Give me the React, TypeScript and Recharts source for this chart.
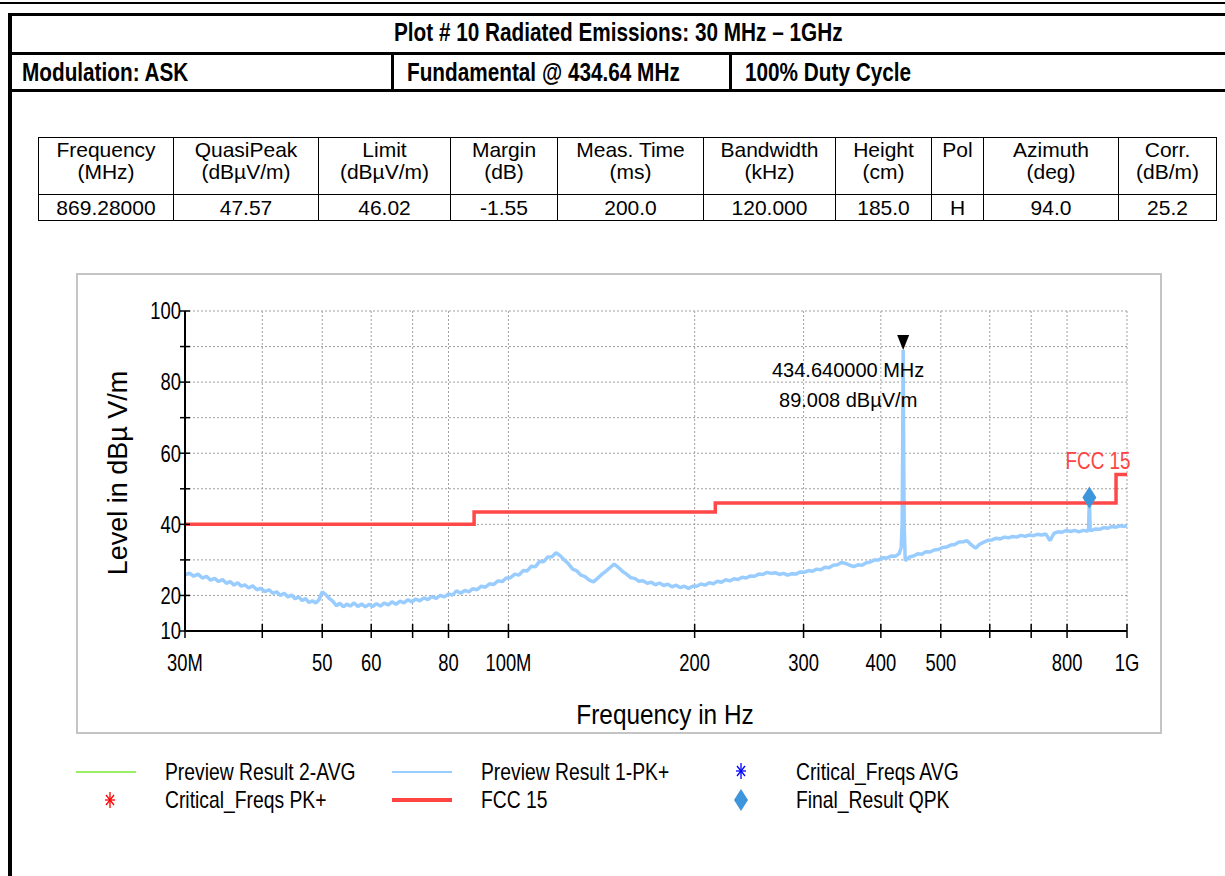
import { CartesianGrid, ComposedChart, Line, ReferenceDot, Scatter, XAxis, YAxis } from 'recharts'

// Preview Result 1-PK+ : frequency (MHz)
const freqMHz = [
  30, 30.5, 31, 31.5, 32, 32.5, 33, 33.5, 34, 34.5, 35, 35.5, 36, 36.5, 37, 37.5, 38, 38.6, 39.2, 39.8,
  40.4, 41, 41.6, 42.2, 42.8, 43.4, 44, 44.6, 45.2, 45.8, 46.4, 47, 47.6, 48.2, 48.8, 49.4, 50,
  50.6, 51.3, 52, 52.7, 53.4, 54.1, 54.8, 55.5, 56.3, 57.1, 57.9, 58.7, 59.5, 60.3,
  61.2, 62.1, 63, 63.9, 64.8, 65.8, 66.8, 67.8, 68.8, 69.8, 70.8, 71.9, 73, 74.1, 75.2, 76.4, 77.6, 78.8, 80,
  81.2, 82.4, 83.7, 85, 86.3, 87.6, 89, 90.4, 91.8, 93.2, 94.7, 96.2, 97.7, 99.2, 100.8,
  102.4, 104, 105.6, 107.2, 108.9, 110.6, 112.3, 114, 115.8, 117.6, 119.4, 121.2, 123.1, 125, 127, 129, 131, 133, 135.1, 137.2, 139.3, 141.5, 143.7, 145.9, 148.2, 150.5,
  152.8, 155.2, 157.6, 160, 162.5, 165, 167.6, 170.2, 172.8, 175.5, 178.2, 181, 183.8, 186.6, 189.5, 192.5, 195.5, 198.5,
  201.6, 204.7, 207.9, 211.1, 214.4, 217.7, 221, 224.5, 228, 231.5, 235, 238.7, 242.4, 246.2, 250, 253.9, 257.8, 261.8, 265.9, 270, 274.2, 278.4, 282.7, 287.1, 291.6, 296.1, 300.7,
  305.4, 310.1, 314.9, 319.8, 324.8, 329.8, 334.9, 340.1, 345.4, 350.7, 356.2, 361.7, 367.3, 373, 378.8, 384.7, 390.6, 396.7, 402.8, 409.1, 415.4, 421.8, 428.4,
  431.5, 433, 433.8, 434.64, 435.5, 436.3, 438,
  444.8, 451.7, 458.7, 465.8, 473, 480.4, 487.8, 495.4, 503.1, 510.9, 518.8, 526.9, 535, 543.3, 551.7, 560.3, 569, 577.8, 586.8, 595.9,
  605.1, 614.5, 624, 633.7, 643.5, 653.5, 663.6, 673.9, 684.4, 695, 705.8, 716.7, 727.8, 739.1, 750.6, 762.2, 774, 786, 798.2, 810.6,
  823.2, 836, 849, 862, 866.5, 869.28, 872, 875.5, 889, 903, 917, 931, 945.5, 960, 975, 990, 1000,
]
// Preview Result 1-PK+ : level (dBµV/m), same order as freqMHz
const pkLevel = [
  25.8, 26.3, 25.4, 26.0, 24.9, 25.4, 24.3, 24.8, 23.9, 24.5, 23.4, 23.9, 22.9, 23.6, 22.6, 23.0, 22.1, 22.7, 21.6, 22.0,
  21.1, 21.6, 20.6, 21.0, 20.0, 20.6, 19.6, 20.1, 19.1, 19.6, 18.6, 19.1, 18.0, 18.5, 17.9, 18.8, 21.0,
  20.3, 19.2, 18.4, 17.1, 17.8, 16.8, 17.6, 17.0, 17.9, 16.9, 17.6, 16.8, 17.5, 16.9,
  17.7, 17.0, 17.9, 17.3, 18.2, 17.5, 18.4, 17.9, 18.8, 18.2, 19.0, 18.5, 19.3, 18.8, 19.7, 19.2, 20.0, 19.6, 20.4,
  20.1, 21.3, 20.6, 21.4, 21.0, 21.9, 21.6, 22.6, 22.3, 23.3, 23.1, 24.1, 23.9, 24.9, 25.0,
  26.0, 25.7, 27.0, 26.9, 28.2, 28.1, 29.6, 29.5, 30.8, 30.9, 32.0, 31.2, 30.0, 28.9, 27.4, 26.9, 25.7, 25.3, 24.3, 23.8, 24.8, 25.9, 26.8, 27.8, 28.8, 27.9,
  26.8, 26.0, 25.0, 24.8, 24.0, 24.1, 23.4, 23.7, 23.0, 23.5, 22.8, 23.2, 22.4, 22.9, 22.2, 22.6, 22.0, 22.6,
  22.6, 23.2, 22.9, 23.6, 23.3, 24.0, 23.7, 24.4, 24.1, 24.7, 24.5, 25.1, 24.9, 25.5, 25.4, 26.0, 25.9, 26.5, 26.2, 26.4, 25.9, 26.2, 25.7, 26.1, 26.0, 26.6, 26.5,
  27.0, 26.8, 27.4, 27.2, 27.9, 27.8, 28.5, 28.6, 29.3, 29.0, 28.5, 28.1, 28.6, 28.5, 29.2, 29.4, 30.0, 30.0, 30.6, 30.5, 31.1, 31.0, 31.8,
  33.5, 40, 60, 89.008, 60, 40, 29.8,
  30.8, 31.1, 31.7, 31.6, 32.3, 32.2, 32.8, 32.9, 33.5, 33.6, 34.2, 34.3, 35.0, 35.1, 35.4, 34.2, 33.3, 34.4, 35.0, 35.5,
  35.6, 36.1, 35.9, 36.4, 36.2, 36.6, 36.4, 36.9, 36.6, 37.0, 36.8, 37.2, 37.0, 37.3, 35.4, 37.5, 37.9, 37.8, 38.3, 38.0,
  38.3, 37.9, 38.3, 38.1, 38.4, 47.0, 38.5, 38.2, 38.7, 38.6, 39.1, 38.9, 39.4, 39.2, 39.6, 39.4, 39.7,
]

// FCC 15 limit
const limitFreq = [30, 88, 216, 960, 1000]
const limitLevel = [40, 43.5, 46, 54, 54]

// Final_Result QPK
const qpkFreq = [869.28]
const qpkLevel = [47.57]

const peakFreq = 434.64
const peakLevel = 89.008

const xTicks = [30, 40, 50, 60, 70, 80, 100, 200, 300, 400, 500, 600, 700, 800, 1000]
const xTickLabels = ['30M', '', '50', '60', '', '80', '100M', '200', '300', '400', '500', '', '', '800', '1G']
const yTicks = [10, 20, 30, 40, 50, 60, 70, 80, 90, 100]
const yTickLabels = ['10', '20', '', '40', '', '60', '', '80', '', '100']

const tableHead = ['Frequency', 'QuasiPeak', 'Limit', 'Margin', 'Meas. Time', 'Bandwidth', 'Height', 'Pol', 'Azimuth', 'Corr.']
const tableUnits = ['(MHz)', '(dBµV/m)', '(dBµV/m)', '(dB)', '(ms)', '(kHz)', '(cm)', '', '(deg)', '(dB/m)']
const tableRow = ['869.28000', '47.57', '46.02', '-1.55', '200.0', '120.000', '185.0', 'H', '94.0', '25.2']
const colWidths = [135, 145, 132, 107, 146, 132, 96, 52, 135, 98]

const SANS = "'Liberation Sans', Arial, sans-serif"

const pkData = freqMHz.map((f, i) => ({ f, v: pkLevel[i] }))
const limitData = limitFreq.map((f, i) => ({ f, v: limitLevel[i] }))
const qpkData = qpkFreq.map((f, i) => ({ f, v: qpkLevel[i] }))

// Arial Narrow look-alike: Liberation Sans squeezed horizontally
function NText(props: {
  x: number
  y: number
  size: number
  sx?: number
  anchor?: 'start' | 'middle' | 'end'
  fill?: string
  dy?: string
  children: React.ReactNode
}) {
  const { x, y, size, sx = 0.82, anchor = 'start', fill = '#000', dy, children } = props
  return (
    <text transform={`translate(${x},${y}) scale(${sx},1)`} textAnchor={anchor} dy={dy} fontFamily={SANS} fontSize={size} fill={fill}>
      {children}
    </text>
  )
}

function XTick(props: any) {
  const { x, y, payload } = props
  const label = xTickLabels[xTicks.indexOf(payload.value)] ?? ''
  return (
    <g>
      <line x1={x} x2={x} y1={y - 7} y2={y + 7} stroke="#000" strokeWidth={1.5} />
      <NText x={x} y={y + 40} size={23} sx={0.8} anchor="middle">{label}</NText>
    </g>
  )
}

function YTick(props: any) {
  const { x, y, payload } = props
  const label = yTickLabels[yTicks.indexOf(payload.value)] ?? ''
  return (
    <g>
      <line x1={x - 5} x2={x + 5} y1={y} y2={y} stroke="#000" strokeWidth={1.5} />
      <NText x={x - 4} y={y} dy="0.36em" size={23} sx={0.8} anchor="end">{label}</NText>
    </g>
  )
}

function PeakMarker(p: any) {
  const { cx, cy } = p
  return (
    <g>
      <path d={`M${cx - 6},${cy - 15} L${cx + 6},${cy - 15} L${cx},${cy} Z`} fill="#000" />
      <text x={cx - 55} y={cy + 27} textAnchor="middle" fontFamily={SANS} fontSize={20} fill="#000">
        434.640000 MHz
      </text>
      <text x={cx - 55} y={cy + 57} textAnchor="middle" fontFamily={SANS} fontSize={20} fill="#000">
        89.008 dBµV/m
      </text>
    </g>
  )
}

function LimitLabel(p: any) {
  const { cx, cy } = p
  return <NText x={cx - 18} y={cy - 6} size={23} anchor="middle" fill="#ff4444">FCC 15</NText>
}

function Diamond(p: any) {
  const { cx, cy } = p
  return <path d={`M${cx},${cy - 11} L${cx + 7},${cy} L${cx},${cy + 11} L${cx - 7},${cy} Z`} fill="#3d95dc" />
}

function Asterisk({ x, y, color }: { x: number; y: number; color: string }) {
  return (
    <g stroke={color} strokeWidth={1.3}>
      <line x1={x} x2={x} y1={y - 8} y2={y + 8} />
      <line x1={x - 5} x2={x + 5} y1={y} y2={y} />
      <line x1={x - 4} x2={x + 4} y1={y - 5} y2={y + 5} />
      <line x1={x - 4} x2={x + 4} y1={y + 5} y2={y - 5} />
    </g>
  )
}

function ChartLegend() {
  return (
    <svg width={1225} height={100} style={{ position: 'absolute', left: 0, top: 740 }}>
      <line x1={76} x2={136} y1={32} y2={32} stroke="#99ee66" strokeWidth={2} />
      <NText x={165} y={40} size={23} sx={0.84}>Preview Result 2-AVG</NText>
      <line x1={392} x2={452} y1={32} y2={32} stroke="#99ccff" strokeWidth={2} />
      <NText x={481} y={40} size={23} sx={0.84}>Preview Result 1-PK+</NText>
      <Asterisk x={741} y={31} color="#0000ff" />
      <NText x={796} y={40} size={23} sx={0.84}>Critical_Freqs AVG</NText>
      <Asterisk x={110} y={60} color="#ff0000" />
      <NText x={165} y={68} size={23} sx={0.84}>Critical_Freqs PK+</NText>
      <line x1={392} x2={452} y1={60} y2={60} stroke="#ff4444" strokeWidth={4} />
      <NText x={481} y={68} size={23} sx={0.84}>FCC 15</NText>
      <path d="M741,49 L748,60 L741,71 L734,60 Z" fill="#3d95dc" />
      <NText x={796} y={68} size={23} sx={0.84}>Final_Result QPK</NText>
    </svg>
  )
}

const bar = (top: number, h: number, left = 0): React.CSSProperties => ({
  position: 'absolute', top, left, right: 0, height: h, background: '#000',
})

function HeadText({ left, right, top, center, children }: { left: number; right?: number; top: number; center?: boolean; children: React.ReactNode }) {
  return (
    <div style={{ position: 'absolute', left, right, top, textAlign: center ? 'center' : 'left', whiteSpace: 'nowrap' }}>
      <span
        style={{
          display: 'inline-block', transform: 'scaleX(0.83)', transformOrigin: center ? 'center' : 'left',
          fontFamily: SANS, fontWeight: 'bold', fontSize: 25, lineHeight: '25px', color: '#000',
        }}
      >
        {children}
      </span>
    </div>
  )
}

export default function App() {
  const cell: React.CSSProperties = {
    border: '1px solid #000', textAlign: 'center', padding: 0, fontFamily: SANS, fontSize: 21, lineHeight: '22px',
  }
  return (
    <div style={{ position: 'relative', width: 1225, height: 876, overflow: 'hidden', background: '#fff' }}>
      <style>{'body{margin:0}'}</style>
      <div style={bar(2, 2)} />
      <div style={bar(13, 3, 8)} />
      <div style={{ position: 'absolute', left: 8, top: 13, width: 4, bottom: 0, background: '#000' }} />
      <HeadText left={12} right={0} top={20} center>Plot # 10 Radiated Emissions: 30 MHz – 1GHz</HeadText>
      <div style={bar(52, 3, 8)} />
      <HeadText left={22} top={60}>Modulation: ASK</HeadText>
      <div style={{ position: 'absolute', left: 391, top: 55, width: 3, height: 34, background: '#000' }} />
      <HeadText left={407} top={60}>Fundamental @ 434.64 MHz</HeadText>
      <div style={{ position: 'absolute', left: 729, top: 55, width: 3, height: 34, background: '#000' }} />
      <HeadText left={745} top={60}>100% Duty Cycle</HeadText>
      <div style={bar(89, 3, 8)} />

      <table style={{ position: 'absolute', left: 38, top: 137, borderCollapse: 'collapse', tableLayout: 'fixed', width: 1178 }}>
        <colgroup>
          {colWidths.map((w, i) => <col key={i} style={{ width: w }} />)}
        </colgroup>
        <tbody>
          <tr style={{ height: 57 }}>
            {tableHead.map((h, i) => (
              <td key={i} style={{ ...cell, verticalAlign: 'top', paddingTop: 1 }}>
                {h}<br />{tableUnits[i]}
              </td>
            ))}
          </tr>
          <tr style={{ height: 26 }}>
            {tableRow.map((v, i) => <td key={i} style={cell}>{v}</td>)}
          </tr>
        </tbody>
      </table>

      <div style={{ position: 'absolute', left: 76, top: 273, width: 1082, height: 457, border: '2px solid #c4c4c4' }} />

      <div style={{ position: 'absolute', left: 0, top: 0 }}>
        <ComposedChart width={1225} height={876} margin={{ top: 311, right: 98, bottom: 205, left: 125 }}>
          <CartesianGrid stroke="#a0a0a0" strokeDasharray="2 2" />
          <XAxis
            dataKey="f"
            type="number"
            scale="log"
            domain={[30, 1000]}
            ticks={xTicks}
            interval={0}
            allowDataOverflow
            height={40}
            tickSize={0}
            tickMargin={0}
            tickLine={false}
            tick={<XTick />}
            axisLine={{ stroke: '#000', strokeWidth: 2 }}
            label={{
              content: (p: any) => (
                <NText x={p.viewBox.x + p.viewBox.width / 2 + 9} y={p.viewBox.y + 93} size={28} sx={0.87} anchor="middle">
                  Frequency in Hz
                </NText>
              ),
            }}
          />
          <YAxis
            dataKey="v"
            type="number"
            domain={[10, 100]}
            ticks={yTicks}
            interval={0}
            allowDataOverflow
            width={60}
            tickSize={0}
            tickMargin={0}
            tickLine={false}
            tick={<YTick />}
            axisLine={{ stroke: '#000', strokeWidth: 2 }}
            label={{
              content: (p: any) => {
                const cx = p.viewBox.x - 7
                const cy = p.viewBox.y + p.viewBox.height / 2 + 2
                return (
                  <text x={cx} y={cy} transform={`rotate(-90 ${cx} ${cy})`} textAnchor="middle" dy="0.35em" fontFamily={SANS} fontSize={27} fill="#000">
                    Level in dBµ V/m
                  </text>
                )
              },
            }}
          />
          <Line data={pkData} dataKey="v" type="linear" stroke="#99ccff" strokeWidth={3.5} strokeLinejoin="bevel" dot={false} isAnimationActive={false} />
          <Line data={limitData} dataKey="v" type="stepAfter" stroke="#ff4848" strokeWidth={3.5} dot={false} isAnimationActive={false} />
          <Scatter data={qpkData} dataKey="v" shape={<Diamond />} isAnimationActive={false} />
          <ReferenceDot x={peakFreq} y={peakLevel} r={6} shape={<PeakMarker />} />
          <ReferenceDot x={limitFreq[3]} y={limitLevel[3]} r={1} shape={<LimitLabel />} />
        </ComposedChart>
      </div>

      <ChartLegend />
    </div>
  )
}
